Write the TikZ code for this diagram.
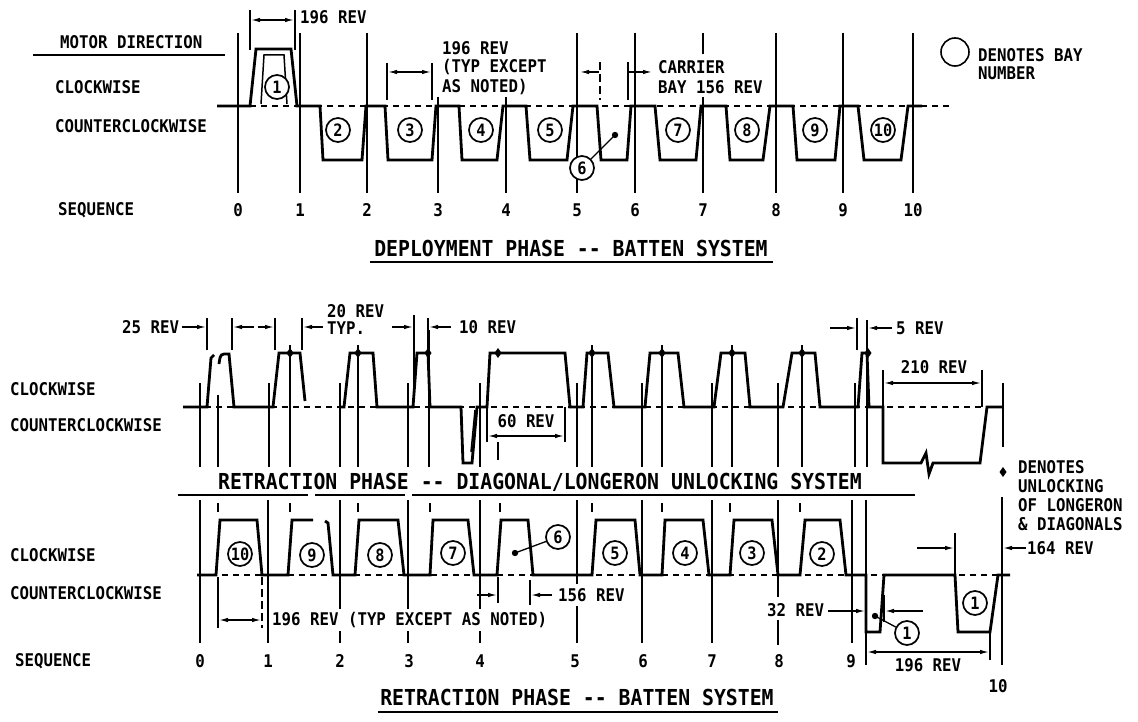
\documentclass[tikz,border=0pt]{standalone}
\usepackage{fontspec}
\setmainfont{DejaVu Sans Mono}[FakeStretch=0.9]
\usetikzlibrary{arrows.meta}
\newcommand\dmark[1]{\fill #1 +(0,-5) -- +(3.5,0) -- +(0,5) -- +(-3.5,0) -- cycle;}
\begin{document}
\begin{tikzpicture}[x=1pt,y=-1pt,
  wave/.style={line width=2.8pt,line join=miter},
  grid/.style={line width=1.5pt},
  base/.style={line width=1.6pt,dash pattern=on 6pt off 5pt},
  ext/.style={line width=1.2pt},
  dim/.style={line width=1.3pt,-{Latex[length=9pt,width=4.5pt]}},
  ddim/.style={line width=1.3pt,{Latex[length=9pt,width=4.5pt]}-{Latex[length=9pt,width=4.5pt]}},
  lbl/.style={anchor=west,inner sep=0pt,font=\fontsize{17.5}{20}\selectfont\bfseries},
  ttl/.style={inner sep=0pt,font=\fontsize{22}{26}\selectfont\bfseries},
  num/.style={circle,draw,line width=1.7pt,minimum size=24pt,inner sep=0pt,fill=white,font=\fontsize{17}{19}\selectfont\bfseries},
  seqn/.style={inner sep=0pt,font=\fontsize{17.5}{20}\selectfont\bfseries},
]
\useasboundingbox[fill=white] (0,0) rectangle (1138,722);

%================ PANEL 1 : DEPLOYMENT =================
\node[lbl] (mdir) at (60,42) {MOTOR DIRECTION};
\draw[line width=1.6pt] (33,55) -- (225,55);
\node[lbl] (cw1) at (55,87) {CLOCKWISE};
\node[lbl] (ccw1) at (55,126) {COUNTERCLOCKWISE};
\node[lbl] (seq1) at (58,210) {SEQUENCE};

\draw[base] (217,106) -- (950,106);
\foreach \x in {238,300,367,577,635,776,843,913} \draw[grid] (\x,33) -- (\x,193);
\draw[grid] (703,33) -- (703,54);
\draw[grid] (703,97) -- (703,193);
\draw[grid] (438,97) -- (438,193);
\draw[grid] (506,97) -- (506,193);
\foreach \x/\t [count=\i] in {238/0,300/1,367/2,438/3,506/4,577/5,635/6,703/7,776/8,843/9,913/10}
  \node[seqn] (sa\i) at (\x,210) {\t};

\draw[wave] (217,106) -- (250,106) -- (256,49) -- (291,49) -- (297,106) -- (320,106)
  -- (323,160) -- (362,160) -- (366,106) -- (385,106) -- (388,160) -- (432,160) -- (436,106)
  -- (459,106) -- (462,160) -- (497,160) -- (503,106) -- (526,106) -- (530,160) -- (567,160)
  -- (573,106) -- (597,106) -- (601,160) -- (627,160) -- (631,106) -- (655,106) -- (660,160)
  -- (696,160) -- (701,106) -- (726,106) -- (730,160) -- (763,160) -- (770,106) -- (793,106)
  -- (797,160) -- (835,160) -- (840,106) -- (858,106) -- (864,160) -- (901,160) -- (908,106)
  -- (922,106);
\draw[line width=1.5pt] (261,104) -- (264,55) -- (284,55) -- (287,104);

\node[num] (a1) at (277,87) {1};
\node[num] (a2) at (338,130) {2};
\node[num] (a3) at (410,130) {3};
\node[num] (a4) at (481,130) {4};
\node[num] (a5) at (550,130) {5};
\node[num] (a6) at (582,168) {6};
\node[num] (a7) at (678,130) {7};
\node[num] (a8) at (747,130) {8};
\node[num] (a9) at (815,130) {9};
\node[num] (a10) at (883,130) {10};
\coordinate (a6d) at (615,135);
\draw[line width=1.3pt] (a6) -- (a6d);
\fill (a6d) circle (3.2);

% dimensions panel 1
\draw[ext] (250,10) -- (250,50);
\draw[ext] (295,10) -- (295,50);
\draw[ddim] (251,20) -- (294,20);
\node[lbl] (t196a) at (300,17) {196 REV};
\draw[ext] (387,63) -- (387,100);
\draw[ext] (432,63) -- (432,100);
\draw[ddim] (388,72) -- (431,72);
\node[lbl] (t196b) at (442,48) {196 REV};
\node[lbl] (t196c) at (442,67) {(TYP EXCEPT};
\node[lbl] (t196d) at (442,87) {AS NOTED)};
\draw[ext,dash pattern=on 8pt off 4pt] (600,62) -- (600,100);
\draw[ext] (628,62) -- (628,100);
\draw[dim] (599,72) -- (580,72);
\draw[dim] (629,72) -- (652,72);
\node[lbl] (tcar) at (658,67) {CARRIER};
\node[lbl] (tbay) at (658,87) {BAY 156 REV};

\node[circle,draw,line width=1.6pt,minimum size=28pt,inner sep=0pt] (leg1) at (955,52) {};
\node[lbl] (tden) at (978,55) {DENOTES BAY};
\node[lbl] (tnum) at (978,73) {NUMBER};

\node[ttl] (title1) at (571,248) {DEPLOYMENT PHASE -{}- BATTEN SYSTEM};
\draw[line width=1.8pt] (370,262) -- (773,262);

%================ PANEL 2 : DIAGONAL / LONGERON =================
\node[lbl] (cw2) at (10,389) {CLOCKWISE};
\node[lbl] (ccw2) at (10,425) {COUNTERCLOCKWISE};

\draw[base] (183,407) -- (1003,407);
\foreach \x in {200,269,340,408,480,577,642,712,778,855} \draw[grid] (\x,383) -- (\x,467);
\draw[grid] (218,395) -- (218,467);
\foreach \x in {290,358,592,662,732,802} \draw[grid] (\x,345) -- (\x,467);
\draw[grid] (429,330) -- (429,467);
\draw[grid] (867,320) -- (867,467);
\draw[grid] (498,442) -- (498,460);
\draw[grid] (1003,383) -- (1003,447);

\draw[wave] (183,407) -- (207,407) -- (211,358) -- (214,355);
\draw[wave] (219,364) to[out=80,in=180] (224,354) -- (229,354) -- (234,407) -- (273,407)
  -- (279,353) -- (300,353) -- (305,401);
\draw[wave] (340,407) -- (344,407) -- (350,353) -- (373,353) -- (377,407) -- (413,407)
  -- (417,353) -- (428,353) -- (430,407) -- (461,407) -- (463,463) -- (472,463) -- (477,407)
  -- (487,407) -- (490,353) -- (565,353) -- (570,407) -- (583,407) -- (587,353) -- (608,353)
  -- (614,407) -- (645,407) -- (650,353) -- (678,353) -- (684,407) -- (714,407) -- (721,353)
  -- (745,353) -- (750,407) -- (783,407) -- (792,353) -- (815,353) -- (820,407) -- (858,407)
  -- (862,353) -- (867,353) -- (869,407) -- (883,407) -- (883,463) -- (921,463) -- (926,453)
  -- (929,474) -- (933,463) -- (980,463) -- (987,407) -- (1003,407);
\draw[line width=1.5pt] (475,410) -- (471,452);

\foreach \x in {290,358,428,498,592,662,732,802,868} {\dmark{(\x,353)}}

% dimensions panel 2
\foreach \x in {207,232,275,302,428,857} \draw[ext] (\x,318) -- (\x,350);
\draw[ext] (414,315) -- (414,392);
\node[lbl] (t25) at (122,327) {25 REV};
\draw[dim] (182,327) -- (206,327);
\draw[dim] (254,327) -- (233,327);
\draw[dim] (258,327) -- (274,327);
\draw[dim] (323,327) -- (303,327);
\node[lbl] (t20) at (327,311) {20 REV};
\node[lbl] (ttyp) at (327,328) {TYP.};
\draw[dim] (392,327) -- (413,327);
\draw[dim] (451,327) -- (429,327);
\node[lbl] (t10) at (459,327) {10 REV};
\draw[ext] (487,407) -- (487,442);
\draw[ext] (565,407) -- (565,442);
\draw[ddim] (488,436) -- (564,436);
\node[seqn] (t60) at (526,421) {60 REV};
\draw[dim] (830,328) -- (856,328);
\draw[dim] (892,328) -- (868,328);
\node[lbl] (t5) at (896,328) {5 REV};
\draw[ext] (883,370) -- (883,407);
\draw[ext] (982,370) -- (982,407);
\draw[ddim] (884,383) -- (981,383);
\node[seqn] (t210) at (934,367) {210 REV};

\node[ttl] (title2) at (540,482) {RETRACTION PHASE -{}- DIAGONAL/LONGERON UNLOCKING SYSTEM};
\draw[line width=1.8pt] (178,495) -- (308,495);
\draw[line width=1.8pt] (315,495) -- (405,495);
\draw[line width=1.8pt] (412,495) -- (915,495);

\dmark{(1003,472)}
\node[lbl] (tl1) at (1018,467) {DENOTES};
\node[lbl] (tl2) at (1018,486) {UNLOCKING};
\node[lbl] (tl3) at (1018,505) {OF LONGERON};
\node[lbl] (tl4) at (1018,524) {\& DIAGONALS};

%================ PANEL 3 : RETRACTION BATTEN =================
\node[lbl] (cw3) at (10,555) {CLOCKWISE};
\node[lbl] (ccw3) at (10,593) {COUNTERCLOCKWISE};
\node[lbl] (seq3) at (15,661) {SEQUENCE};

\draw[base] (200,575) -- (1010,575);
\foreach \x in {200,268,642,712,852} \draw[grid] (\x,500) -- (\x,643);
\foreach \x in {340,408,480} {\draw[grid] (\x,500) -- (\x,609); \draw[grid] (\x,631) -- (\x,643);}
\draw[grid] (577,500) -- (577,584);
\draw[grid] (577,606) -- (577,643);
\draw[grid] (778,500) -- (778,597);
\draw[grid] (778,620) -- (778,645);
\draw[grid] (1002,497) -- (1002,665);
\draw[grid] (866,500) -- (866,665);
\foreach \x in {218,290,358,430,500,592,662,730,800} \draw[ext] (\x,503) -- (\x,512);
\foreach \x/\t [count=\i] in {200/0,268/1,340/2,409/3,480/4,575/5,643/6,712/7,779/8,851/9}
  \node[seqn] (sb\i) at (\x,661) {\t};
\node[seqn] (sb11) at (998,686) {10};

\draw[wave] (197,575) -- (216,575) -- (220,520) -- (257,520) -- (262,575) -- (288,575)
  -- (292,520) -- (313,520);
\draw[wave] (325,521) -- (328,523) -- (333,575) -- (355,575) -- (359,520) -- (398,520)
  -- (404,575) -- (430,575) -- (433,520) -- (468,520) -- (474,575) -- (497,575) -- (501,520)
  -- (528,520) -- (533,575) -- (592,575) -- (596,520) -- (635,520) -- (640,575) -- (662,575)
  -- (665,520) -- (703,520) -- (709,575) -- (730,575) -- (734,520) -- (772,520) -- (778,575)
  -- (800,575) -- (805,520) -- (840,520) -- (846,575) -- (866,575) -- (866,632) -- (880,632)
  -- (884,575) -- (955,575) -- (958,632) -- (990,632) -- (998,575) -- (1010,575);

\node[num] (b10) at (240,554) {10};
\node[num] (b9) at (312,555) {9};
\node[num] (b8) at (380,555) {8};
\node[num] (b7) at (453,553) {7};
\node[num] (b6) at (558,537) {6};
\node[num] (b5) at (615,553) {5};
\node[num] (b4) at (685,553) {4};
\node[num] (b3) at (752,553) {3};
\node[num] (b2) at (822,554) {2};
\node[num] (b1r) at (975,603) {1};
\node[num] (b1l) at (907,633) {1};
\coordinate (b6d) at (515,553);
\draw[line width=1.3pt] (b6) -- (b6d);
\fill (b6d) circle (3.2);
\coordinate (b1d) at (875,616);
\draw[line width=1.3pt] (b1l) -- (b1d);
\fill (b1d) circle (3.2);

% dimensions panel 3
\draw[ext] (218,577) -- (218,628);
\draw[ext,dash pattern=on 8pt off 4pt] (262,577) -- (262,628);
\draw[ddim] (219,620) -- (261,620);
\node[lbl] (t196e) at (272,620) {196 REV (TYP EXCEPT AS NOTED)};
\draw[ext] (498,577) -- (498,603);
\draw[ext] (530,580) -- (530,605);
\draw[dim] (477,595) -- (497,595);
\draw[dim] (552,595) -- (531,595);
\node[lbl] (t156) at (558,595) {156 REV};
\node[lbl] (t32) at (767,610) {32 REV};
\draw[ext] (884,595) -- (884,622);
\draw[dim] (828,611) -- (865,611);
\draw[dim] (923,611) -- (885,611);
\draw[ext] (990,632) -- (990,660);
\draw[ddim] (867,652) -- (989,652);
\node[seqn] (t196f) at (928,665) {196 REV};
\draw[ext] (955,533) -- (955,575);
\draw[dim] (917,548) -- (954,548);
\draw[dim] (1026,548) -- (1003,548);
\node[lbl] (t164) at (1027,548) {164 REV};

\node[ttl] (title3) at (577,697) {RETRACTION PHASE -{}- BATTEN SYSTEM};
\draw[line width=1.8pt] (378,712) -- (778,712);
\end{tikzpicture}
\end{document}
